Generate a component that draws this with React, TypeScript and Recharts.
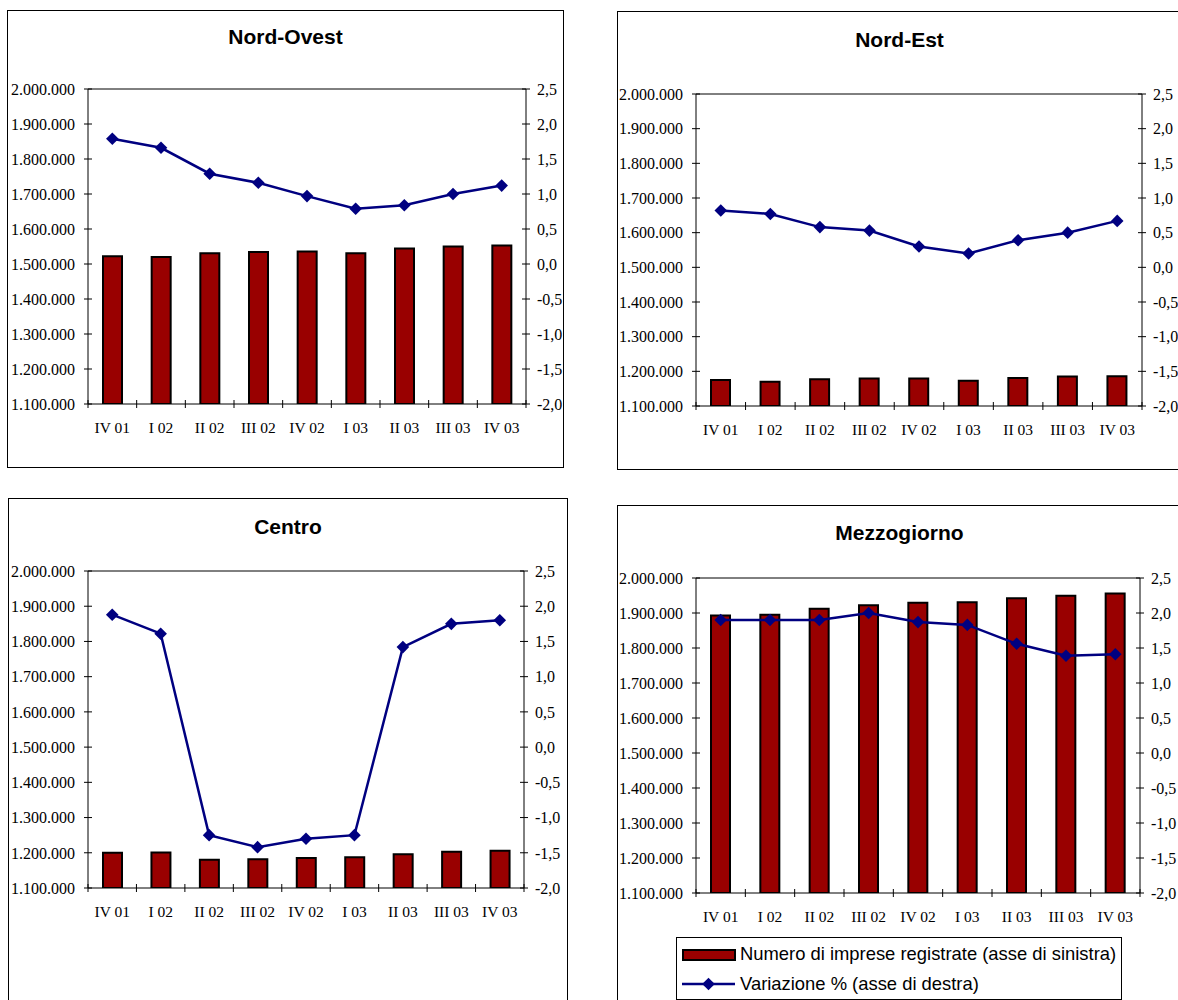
import React from "react"
import { ComposedChart, Bar, Line, XAxis, YAxis, ReferenceLine } from "recharts"

const categories = ["IV 01", "I 02", "II 02", "III 02", "IV 02", "I 03", "II 03", "III 03", "IV 03"]

const nordOvestImprese = [1522000, 1520000, 1531000, 1534000, 1536000, 1531000, 1544000, 1550000, 1553000]
const nordOvestVariazione = [1.79, 1.66, 1.29, 1.16, 0.97, 0.79, 0.84, 1.0, 1.12]

const nordEstImprese = [1175000, 1170000, 1177000, 1179000, 1179000, 1173000, 1181000, 1185000, 1186000]
const nordEstVariazione = [0.82, 0.77, 0.58, 0.53, 0.3, 0.2, 0.39, 0.5, 0.67]

const centroImprese = [1200000, 1201000, 1180000, 1181500, 1185000, 1187000, 1196000, 1203000, 1206000]
const centroVariazione = [1.88, 1.61, -1.25, -1.42, -1.3, -1.25, 1.42, 1.75, 1.8]

const mezzogiornoImprese = [1893000, 1895000, 1912000, 1922000, 1929500, 1930500, 1942000, 1949000, 1956000]
const mezzogiornoVariazione = [1.9, 1.9, 1.9, 2.0, 1.87, 1.83, 1.56, 1.39, 1.41]

const leftTicks = [1100000, 1200000, 1300000, 1400000, 1500000, 1600000, 1700000, 1800000, 1900000, 2000000]
const rightTicks = [-2, -1.5, -1, -0.5, 0, 0.5, 1, 1.5, 2, 2.5]

const BAR_RED = "#990000"
const NAVY = "#000080"
const SERIF = "'Liberation Serif', 'Times New Roman', serif"
const SANS = "'Liberation Sans', Arial, sans-serif"

const fmtLeft = (v: number) => String(v).replace(/\B(?=(\d{3})+(?!\d))/g, ".")
const fmtRight = (v: number) => v.toFixed(1).replace(".", ",")

const LEFT_GAP = 13
const RIGHT_GAP = 11

const Diamond = (props: any) => {
  const { cx, cy } = props
  if (cx == null || cy == null) return null
  const s = 6.3
  return <path d={`M${cx},${cy - s}L${cx + s},${cy}L${cx},${cy + s}L${cx - s},${cy}Z`} fill={NAVY} />
}

const LeftTick = ({ x, y, payload }: any) => {
  const ax = x + LEFT_GAP
  return (
    <g>
      <line x1={ax - 4} x2={ax + 4} y1={y} y2={y} stroke="#000" />
      <text x={x} y={y} dy="0.36em" textAnchor="end" fontFamily={SERIF} fontSize={16} fill="#000">
        {fmtLeft(payload.value)}
      </text>
    </g>
  )
}

const RightTick = ({ x, y, payload }: any) => {
  const ax = x - RIGHT_GAP
  return (
    <g>
      <line x1={ax - 4} x2={ax + 4} y1={y} y2={y} stroke="#000" />
      <text x={x} y={y} dy="0.36em" textAnchor="start" fontFamily={SERIF} fontSize={16} fill="#000">
        {fmtRight(payload.value)}
      </text>
    </g>
  )
}

const makeBottomTick = (band: number) => ({ x, y, payload, index }: any) => {
  const ay = y - 8
  const left = x - band / 2
  return (
    <g>
      <line x1={left} x2={left} y1={ay - 4} y2={ay + 4} stroke="#000" />
      {index === categories.length - 1 && (
        <line x1={x + band / 2} x2={x + band / 2} y1={ay - 4} y2={ay + 4} stroke="#000" />
      )}
      <text x={x} y={ay + 29} textAnchor="middle" fontFamily={SERIF} fontSize={15.5} fill="#000">
        {payload.value}
      </text>
    </g>
  )
}

type Box = { x: number; y: number; w: number; h: number }
type Plot = { l: number; t: number; r: number; b: number }

function Panel({ title, titleY, frame, plot, imprese, variazione }: {
  title: string; titleY: number; frame: Box; plot: Plot; imprese: number[]; variazione: number[]
}) {
  const data = categories.map((c, i) => ({ cat: c, imprese: imprese[i], variazione: variazione[i] }))
  const leftW = plot.l - frame.x
  const rightW = frame.x + frame.w - plot.r
  const xH = 40
  const chartH = plot.b - frame.y + xH
  const band = (plot.r - plot.l) / categories.length
  return (
    <>
      <div style={{ position: "absolute", left: frame.x, top: frame.y, width: frame.w, height: frame.h, border: "1px solid #000", boxSizing: "border-box" }} />
      <div style={{ position: "absolute", left: frame.x, top: titleY - 13, width: frame.w, textAlign: "center", fontFamily: SANS, fontWeight: "bold", fontSize: 21, lineHeight: "26px" }}>
        {title}
      </div>
      <div style={{ position: "absolute", left: frame.x, top: frame.y }}>
        <ComposedChart width={frame.w} height={chartH} data={data} margin={{ top: plot.t - frame.y, right: 0, bottom: 0, left: 0 }}>
          <XAxis
            dataKey="cat"
            height={xH}
            interval={0}
            tickSize={6}
            tickMargin={2}
            tickLine={false}
            axisLine={{ stroke: "#000" }}
            tick={makeBottomTick(band)}
          />
          <YAxis
            yAxisId="left"
            orientation="left"
            width={leftW}
            domain={[1100000, 2000000]}
            ticks={leftTicks}
            interval={0}
            allowDataOverflow
            tickSize={6}
            tickMargin={LEFT_GAP - 6}
            tickLine={false}
            axisLine={{ stroke: "#000" }}
            tick={<LeftTick />}
          />
          <YAxis
            yAxisId="right"
            orientation="right"
            width={rightW}
            domain={[-2, 2.5]}
            ticks={rightTicks}
            interval={0}
            allowDataOverflow
            tickSize={6}
            tickMargin={RIGHT_GAP - 6}
            tickLine={false}
            axisLine={{ stroke: "#000" }}
            tick={<RightTick />}
          />
          <ReferenceLine yAxisId="left" y={2000000} stroke="#000" />
          <Bar yAxisId="left" dataKey="imprese" barSize={19} fill={BAR_RED} stroke="#000" strokeWidth={2} isAnimationActive={false} />
          <Line yAxisId="right" dataKey="variazione" type="linear" stroke={NAVY} strokeWidth={2.5} dot={<Diamond />} activeDot={false} isAnimationActive={false} />
        </ComposedChart>
      </div>
    </>
  )
}

function LegendBox() {
  return (
    <div style={{ position: "absolute", left: 676, top: 937, width: 446, height: 63, border: "1px solid #000", boxSizing: "border-box", background: "#fff" }}>
      <svg width={60} height={60} style={{ position: "absolute", left: 0, top: 0 }}>
        <rect x={6} y={12} width={52} height={10} fill={BAR_RED} stroke="#000" strokeWidth={2} />
        <line x1={5} x2={58} y1={46} y2={46} stroke={NAVY} strokeWidth={2.5} />
        <Diamond cx={31.5} cy={46} />
      </svg>
      <div style={{ position: "absolute", left: 63, top: 5, fontFamily: SANS, fontSize: 18.4, lineHeight: "22px", whiteSpace: "nowrap" }}>
        Numero di imprese registrate (asse di sinistra)
      </div>
      <div style={{ position: "absolute", left: 63, top: 35, fontFamily: SANS, fontSize: 18.4, lineHeight: "22px", whiteSpace: "nowrap" }}>
        Variazione % (asse di destra)
      </div>
    </div>
  )
}

export default function App() {
  return (
    <div style={{ position: "absolute", left: 0, top: 0, width: 1178, height: 1000, overflow: "hidden", background: "#fff" }}>
      <Panel title="Nord-Ovest" titleY={37} frame={{ x: 7, y: 10, w: 557, h: 458 }} plot={{ l: 88, t: 89, r: 526, b: 404 }} imprese={nordOvestImprese} variazione={nordOvestVariazione} />
      <Panel title="Nord-Est" titleY={40} frame={{ x: 617, y: 11, w: 565, h: 459 }} plot={{ l: 696, t: 94, r: 1142, b: 406 }} imprese={nordEstImprese} variazione={nordEstVariazione} />
      <Panel title="Centro" titleY={527} frame={{ x: 8, y: 498, w: 560, h: 520 }} plot={{ l: 88, t: 571, r: 524, b: 888 }} imprese={centroImprese} variazione={centroVariazione} />
      <Panel title="Mezzogiorno" titleY={533} frame={{ x: 617, y: 505, w: 565, h: 520 }} plot={{ l: 696, t: 578, r: 1140, b: 893 }} imprese={mezzogiornoImprese} variazione={mezzogiornoVariazione} />
      <LegendBox />
    </div>
  )
}
